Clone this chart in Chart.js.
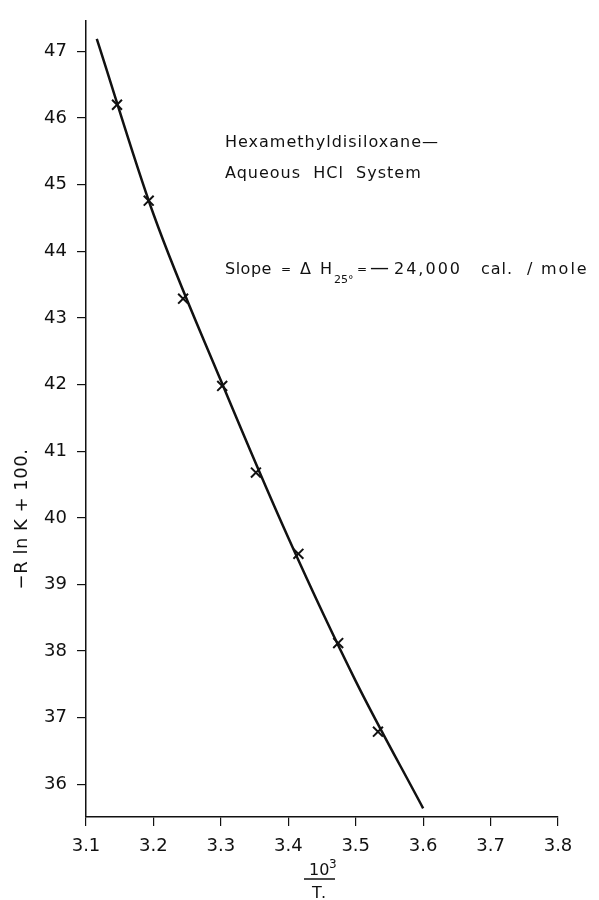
<!DOCTYPE html>
<html>
<head>
<meta charset="utf-8">
<script src="https://cdn.jsdelivr.net/npm/chart.js@4.4.1/dist/chart.umd.min.js"></script>
<style>
  html, body { margin: 0; padding: 0; background: #fff; }
  #wrap { width: 599px; height: 900px; position: relative; }
</style>
</head>
<body>
<div id="wrap"><canvas id="myChart"></canvas></div>
<script>
// measured points (x marks)
var pointX = [3.146, 3.193, 3.244, 3.302, 3.352, 3.415, 3.474, 3.533]
var pointY = [46.20, 44.76, 43.29, 41.98, 40.68, 39.46, 38.12, 36.79]

// drawn curve
var curveX = [3.116, 3.2, 3.3, 3.4, 3.5, 3.6]
var curveY = [47.19, 44.56, 42.06, 39.70, 37.55, 35.64]

var xTicks = [3.1, 3.2, 3.3, 3.4, 3.5, 3.6, 3.7, 3.8]
var yTicks = [36, 37, 38, 39, 40, 41, 42, 43, 44, 45, 46, 47]

var FONT = '"DejaVu Sans", sans-serif'
var INK = '#111'

function toXY(xs, ys){
    var out = []
    for (var i = 0; i < xs.length; i++) out.push({x: xs[i], y: ys[i]})
    return out
}

// text piece: font size, letter spacing, x, baseline
function put(ctx, text, size, spacing, x, y){
    ctx.font = size + 'px ' + FONT
    if ('letterSpacing' in ctx) ctx.letterSpacing = spacing + 'px'
    ctx.fillText(text, x, y)
}

var labelsPlugin = {
    id: 'labels',
    afterDraw: function(chart){
        var ctx = chart.ctx
        ctx.save()
        ctx.fillStyle = INK
        ctx.strokeStyle = INK
        ctx.textBaseline = 'alphabetic'
        ctx.textAlign = 'left'

        // annotation
        put(ctx, 'Hexamethyldisiloxane\u2014', 16, 1, 225, 147)
        put(ctx, 'Aqueous  HCl  System', 16, 1, 225, 178)

        put(ctx, 'Slope', 16, 0.5, 225, 274)
        put(ctx, '=', 12, 0, 281, 273)
        put(ctx, '\u0394', 16, 0, 300, 274)
        put(ctx, 'H', 16, 0, 320, 274)
        put(ctx, '25\u00b0', 11, 0, 334, 283)
        put(ctx, '=', 12, 0, 357, 273)
        put(ctx, '\u2014', 19, 0, 370, 274)
        put(ctx, '24,000', 16, 2, 394, 274)
        put(ctx, 'cal.', 16, 1, 481, 274)
        put(ctx, '/', 16, 0, 527, 274)
        put(ctx, 'mole', 16, 2, 541, 274)

        // y axis title
        ctx.save()
        ctx.translate(22, 519)
        ctx.rotate(-Math.PI / 2)
        ctx.textAlign = 'center'
        ctx.textBaseline = 'middle'
        put(ctx, '\u2212R ln K + 100.', 18, 0.5, 0, 0)
        ctx.restore()

        // x axis title: 10^3 / T.
        put(ctx, '10', 16, 0, 309, 875)
        put(ctx, '3', 12, 0, 329, 868)
        ctx.lineWidth = 1.5
        ctx.beginPath()
        ctx.moveTo(304, 879)
        ctx.lineTo(335, 879)
        ctx.stroke()
        put(ctx, 'T.', 16, 1, 312, 898)
        ctx.restore()
    }
}

var ctx = document.getElementById('myChart').getContext('2d')
var myChart = new Chart(ctx, {
    type: 'scatter',
    data: {
        datasets: [{
            label: 'curve',
            data: toXY(curveX, curveY),
            showLine: true,
            borderColor: INK,
            borderWidth: 2.5,
            pointRadius: 0,
            cubicInterpolationMode: 'monotone',
            fill: false
        }, {
            label: 'points',
            data: toXY(pointX, pointY),
            showLine: false,
            pointStyle: 'crossRot',
            pointRadius: 7,
            borderColor: INK,
            borderWidth: 2
        }]
    },
    options: {
        responsive: true,
        maintainAspectRatio: false,
        animation: false,
        layout: { padding: { top: 15, right: 41, left: 0, bottom: 0 } },
        plugins: { legend: { display: false }, tooltip: { enabled: false } },
        scales: {
            x: {
                type: 'linear',
                min: 3.1,
                max: 3.8,
                afterFit: function(scale){ scale.height = 83 },
                afterBuildTicks: function(scale){
                    scale.ticks = xTicks.map(function(v){ return {value: v} })
                },
                ticks: {
                    padding: 10,
                    color: INK,
                    font: { family: FONT, size: 18 },
                    callback: function(v){ return v.toFixed(1) }
                },
                grid: { drawOnChartArea: false, tickLength: 9, color: INK, lineWidth: 1.2 },
                border: { color: INK, width: 1.5 }
            },
            y: {
                type: 'linear',
                min: 35.51,
                max: 47.46,
                afterFit: function(scale){ scale.width = 86 },
                afterBuildTicks: function(scale){
                    scale.ticks = yTicks.map(function(v){ return {value: v} })
                },
                ticks: {
                    padding: 10,
                    color: INK,
                    font: { family: FONT, size: 18 },
                    callback: function(v){ return String(v) }
                },
                grid: { drawOnChartArea: false, tickLength: 9, color: INK, lineWidth: 1.2 },
                border: { color: INK, width: 1.5 }
            }
        }
    },
    plugins: [labelsPlugin]
});
</script>
</body>
</html>
